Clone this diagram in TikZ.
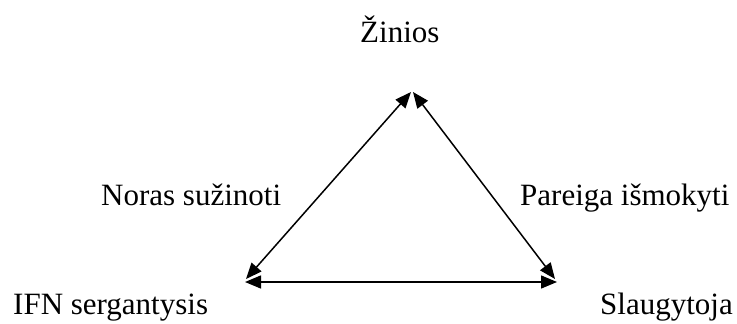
\documentclass[tikz,border=0pt]{standalone}
\usepackage{fontspec}
\setmainfont{Liberation Serif}
\usetikzlibrary{arrows.meta}
\begin{document}
\begin{tikzpicture}[x=1pt,y=-1pt,
  lbl/.style={inner sep=0pt,font=\fontsize{31}{37}\selectfont},
  biarrow/.style={line width=1.5pt,{Triangle[length=16pt,width=13pt]}-{Triangle[length=16pt,width=13pt]}}]
\useasboundingbox (0,0) rectangle (737,324);
\node[lbl,anchor=base west] (zin) at (360,42) {Žinios};
\node[lbl,anchor=base west] (nor) at (101,205) {Noras sužinoti};
\node[lbl,anchor=base west] (par) at (520,205) {Pareiga išmokyti};
\node[lbl,anchor=base west] (ifn) at (13,314) {IFN sergantysis};
\node[lbl,anchor=base west] (sla) at (600,314) {Slaugytoja};
\coordinate (tl) at (411,92);
\coordinate (tr) at (413,92);
\coordinate (bl) at (246,279);
\coordinate (br) at (555,279);
\coordinate (bbl) at (245,282);
\coordinate (bbr) at (557,282);
\draw[biarrow] (bl) -- (tl);
\draw[biarrow] (tr) -- (br);
\draw[biarrow] (bbl) -- (bbr);
\end{tikzpicture}
\end{document}
